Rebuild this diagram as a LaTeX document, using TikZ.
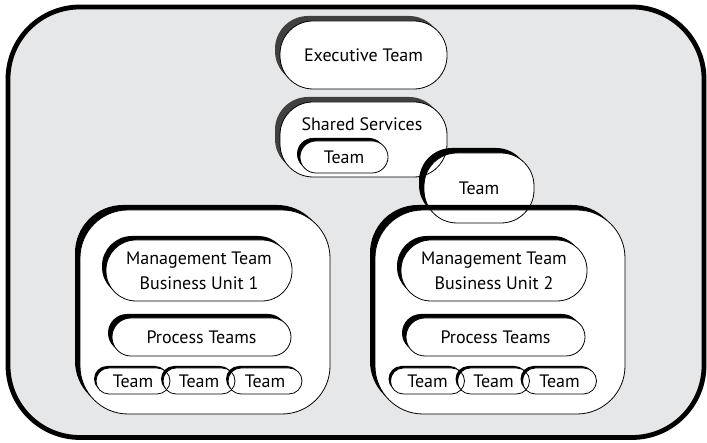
\documentclass[tikz,border=0pt]{standalone}
\usepackage{fontspec}
\setmainfont{PT Sans}
\usetikzlibrary{positioning,shadows}
\definecolor{bggray}{HTML}{E6E7E8}
\tikzstyle{frame} = [draw, line width=4.8pt, fill=bggray, rounded corners=72pt]
\tikzstyle{block} = [rectangle, fill=white, inner sep=0pt, outer sep=0pt, align=center, font=\fontsize{18}{25}\selectfont]
\tikzstyle{txt} = [inner sep=0pt, font=\fontsize{18}{25}\selectfont]
\tikzstyle{edge} = [line width=0.8pt]
\tikzset{shd/.style={drop shadow={shadow xshift=-#1, shadow yshift=#1, fill=black, opacity=1}},
  gshd/.style={drop shadow={shadow xshift=-#1, shadow yshift=#1, fill=black!75, opacity=1}}}

\begin{document}
\begin{tikzpicture}[x=1pt,y=1pt]
        \useasboundingbox (0,0) rectangle (707,443);
        \draw[frame] (8,5.5) rectangle (704,436);

        % top of the organisation
        \node[block, gshd=5pt, minimum width=167pt, minimum height=68pt, rounded corners=33pt] (e1) at (363.5,388) {Executive Team};
        \node[block, gshd=5pt, minimum width=167pt, minimum height=75pt, rounded corners=33pt] (s1) at (363.5,303.5) {};
        \node[txt] (s3) at (362,318.5) {Shared Services};
        \node[block, shd=3pt, minimum width=88pt, minimum height=32pt, rounded corners=16pt] (s2) at (344,286) {Team};
        \node[block, shd=5pt, minimum width=110pt, minimum height=70pt, rounded corners=33pt] (t1) at (479,255) {Team};

        % business units
        \node[block, shd=5pt, minimum width=250pt, minimum height=204pt, rounded corners=48pt] (u1) at (205,131) {};
        \node[block, shd=5pt, minimum width=250pt, minimum height=204pt, rounded corners=48pt] (u2) at (500,131) {};

        \node[block, shd=4pt, minimum width=186pt, minimum height=61pt, rounded corners=30pt] (m1) at (199,172.5) {Management Team\\Business Unit 1};
        \node[block, shd=4pt, minimum width=186pt, minimum height=61pt, rounded corners=30pt] (m2) at (494,172.5) {Management Team\\Business Unit 2};
        \node[block, shd=4pt, minimum width=179pt, minimum height=38pt, rounded corners=19pt] (p1) at (201.5,106) {Process Teams};
        \node[block, shd=4pt, minimum width=179pt, minimum height=38pt, rounded corners=19pt] (p2) at (495.5,106) {Process Teams};

        \node[block, shd=2pt, minimum width=74pt, minimum height=26pt, rounded corners=13pt] (a1) at (133,62) {Team};
        \node[block, shd=2pt, minimum width=72pt, minimum height=26pt, rounded corners=13pt, right of=a1, node distance=66pt] (a2) {Team};
        \node[block, shd=2pt, minimum width=74pt, minimum height=26pt, rounded corners=13pt, right of=a2, node distance=66pt] (a3) {Team};
        \node[block, shd=2pt, minimum width=74pt, minimum height=26pt, rounded corners=13pt] (b1) at (427.5,62) {Team};
        \node[block, shd=2pt, minimum width=72pt, minimum height=26pt, rounded corners=13pt, right of=b1, node distance=66pt] (b2) {Team};
        \node[block, shd=2pt, minimum width=74pt, minimum height=26pt, rounded corners=13pt, right of=b2, node distance=66pt] (b3) {Team};

        % thin outlines on top
        \foreach \n/\rr in {e1/33,s1/33,s2/16,t1/33,u1/48,u2/48,m1/30,m2/30,p1/19,p2/19,a1/13,a2/13,a3/13,b1/13,b2/13,b3/13}
            \draw[edge, rounded corners=\rr pt] (\n.south west) rectangle (\n.north east);

    \end{tikzpicture}
\end{document}
